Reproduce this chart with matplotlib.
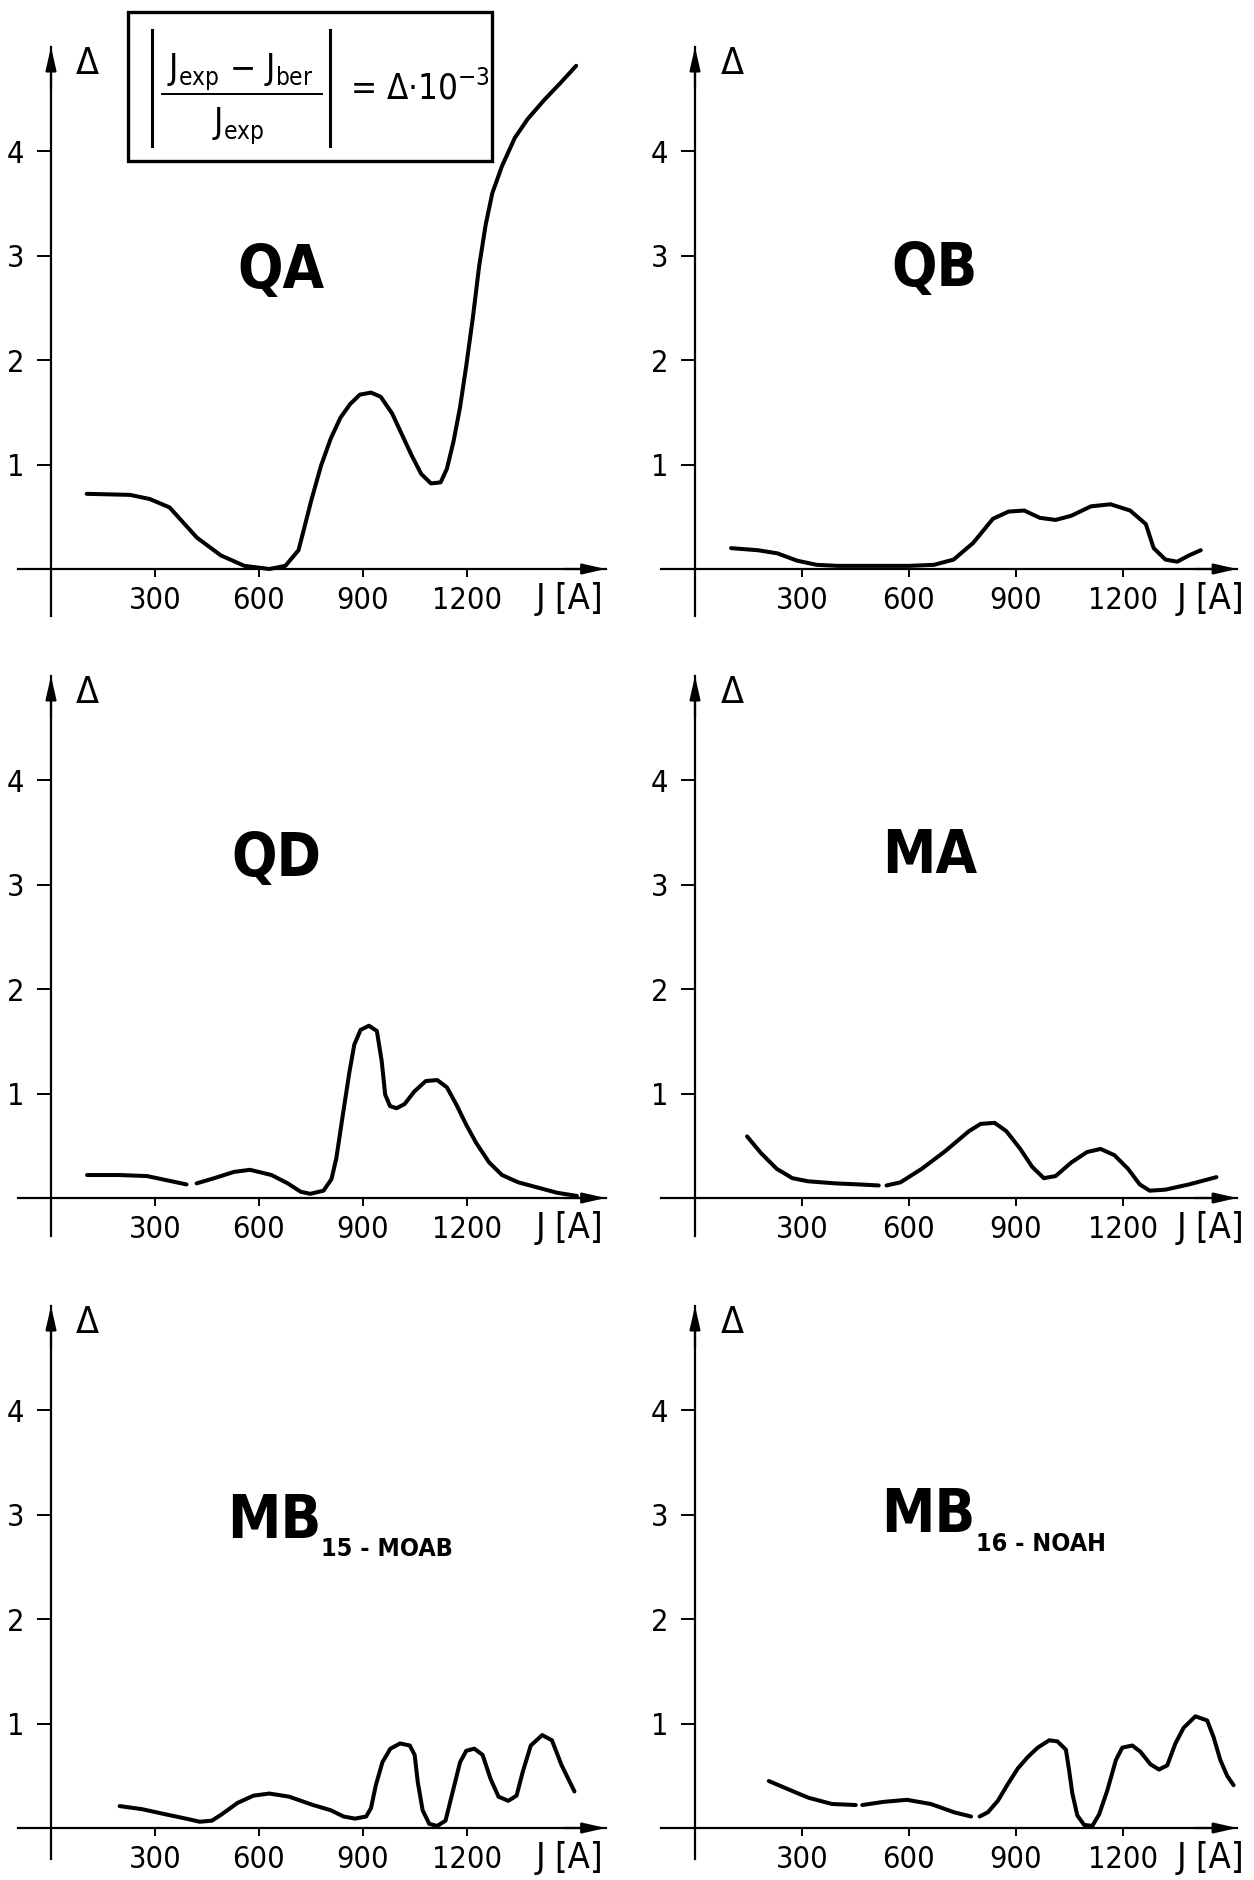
import matplotlib
matplotlib.use("Agg")
import matplotlib.pyplot as plt
import numpy as np
from matplotlib.patches import Rectangle

plt.rcParams["font.family"] = ["Liberation Sans Narrow", "DejaVu Sans"]
plt.rcParams["font.stretch"] = "condensed"
plt.rcParams["mathtext.default"] = "regular"

# ---- data (J in A, delta in 1e-3) ----
qa_j = [103, 228, 285, 342, 421, 490, 558, 630, 676, 714, 728, 751, 779, 807, 835, 863,
        891, 923, 951, 984, 1012, 1040, 1068, 1096, 1124, 1142, 1161, 1180, 1198, 1217,
        1235, 1254, 1273, 1301, 1338, 1375, 1422, 1468, 1515]
qa_d = [0.72, 0.71, 0.67, 0.59, 0.30, 0.13, 0.03, 0.0, 0.03, 0.18, 0.36, 0.66, 0.99, 1.25,
        1.45, 1.58, 1.67, 1.69, 1.65, 1.49, 1.29, 1.09, 0.91, 0.82, 0.83, 0.96, 1.22, 1.55,
        1.95, 2.41, 2.90, 3.30, 3.60, 3.86, 4.13, 4.31, 4.49, 4.65, 4.82]

qb_j = [101, 176, 231, 286, 341, 400, 500, 600, 670, 725, 780, 835, 879, 923, 967, 1011,
        1055, 1110, 1165, 1220, 1264, 1286, 1319, 1352, 1385, 1418]
qb_d = [0.20, 0.18, 0.15, 0.08, 0.04, 0.03, 0.03, 0.03, 0.04, 0.09, 0.25, 0.48, 0.55, 0.56,
        0.49, 0.47, 0.51, 0.60, 0.62, 0.56, 0.43, 0.20, 0.09, 0.07, 0.13, 0.18]

qd_j = [104, 197, 277, 334, 391, np.nan, 420, 471, 528, 574, 636, 683, 720, 748, 786, 809,
        823, 842, 861, 875, 893, 917, 940, 954, 964, 978, 997, 1020, 1048, 1081, 1114,
        1142, 1170, 1198, 1226, 1264, 1301, 1348, 1404, 1460, 1517]
qd_d = [0.22, 0.22, 0.21, 0.17, 0.13, np.nan, 0.14, 0.19, 0.25, 0.27, 0.22, 0.14, 0.06, 0.04,
        0.07, 0.18, 0.38, 0.80, 1.21, 1.47, 1.61, 1.65, 1.60, 1.31, 0.99, 0.88, 0.86, 0.90,
        1.02, 1.12, 1.13, 1.06, 0.89, 0.70, 0.53, 0.34, 0.22, 0.15, 0.10, 0.05, 0.02]

ma_j = [146, 185, 229, 273, 317, 394, 460, 515, np.nan, 537, 576, 636, 702, 768, 801, 840,
        873, 912, 945, 978, 1011, 1055, 1099, 1137, 1176, 1214, 1247, 1275, 1319, 1385, 1462]
ma_d = [0.59, 0.43, 0.28, 0.19, 0.16, 0.14, 0.13, 0.12, np.nan, 0.12, 0.15, 0.28, 0.45, 0.64,
        0.71, 0.72, 0.64, 0.47, 0.30, 0.19, 0.21, 0.34, 0.44, 0.47, 0.41, 0.28, 0.13, 0.07,
        0.08, 0.13, 0.20]

mb15_j = [198, 263, 332, 389, 429, 464, 492, 538, 584, 630, 687, 756, 807, 844, 877, 909,
          923, 937, 956, 979, 1007, 1035, 1049, 1058, 1072, 1091, 1114, 1138, 1156, 1180,
          1198, 1221, 1245, 1268, 1291, 1319, 1343, 1361, 1384, 1417, 1445, 1473, 1510]
mb15_d = [0.21, 0.18, 0.13, 0.09, 0.06, 0.07, 0.13, 0.24, 0.31, 0.33, 0.30, 0.22, 0.17, 0.11,
          0.09, 0.11, 0.19, 0.41, 0.63, 0.76, 0.81, 0.79, 0.70, 0.44, 0.17, 0.04, 0.02, 0.07,
          0.31, 0.63, 0.74, 0.76, 0.70, 0.47, 0.30, 0.26, 0.31, 0.54, 0.79, 0.89, 0.84, 0.60,
          0.35]

mb16_j = [207, 262, 318, 384, 451, np.nan, 469, 528, 594, 661, 727, 774, np.nan, 798, 821,
          849, 877, 905, 933, 961, 993, 1016, 1040, 1049, 1058, 1072, 1091, 1114, 1133, 1156,
          1180, 1198, 1226, 1249, 1277, 1301, 1324, 1347, 1370, 1403, 1436, 1454, 1473, 1492,
          1510]
mb16_d = [0.45, 0.37, 0.29, 0.23, 0.22, np.nan, 0.22, 0.25, 0.27, 0.23, 0.15, 0.11, np.nan,
          0.11, 0.15, 0.26, 0.42, 0.57, 0.68, 0.77, 0.84, 0.83, 0.75, 0.55, 0.33, 0.12, 0.03,
          0.02, 0.13, 0.36, 0.65, 0.77, 0.79, 0.73, 0.61, 0.56, 0.60, 0.81, 0.96, 1.07, 1.03,
          0.87, 0.65, 0.50, 0.41]

x_ticks = [300, 600, 900, 1200]
y_ticks = [1, 2, 3, 4]

# ---- layout (pixels of the 1254 x 1880 canvas) ----
W, H = 1254, 1880
SY = 104.4                       # px per delta unit
COLS = {"L": (51, 104 / 300, (-95, 1600)), "R": (695, 107 / 300, (-95, 1520))}
ROWS = [(569, -0.45), (1198, -0.36), (1828, -0.30)]
YTOP = 5.0

panels = [
    ("L", 0, qa_j, qa_d, "QA", None, (664, 2.85)),
    ("R", 0, qb_j, qb_d, "QB", None, (673, 2.87)),
    ("L", 1, qd_j, qd_d, "QD", None, (650, 3.24)),
    ("R", 1, ma_j, ma_d, "MA", None, (659, 3.27)),
    ("L", 2, mb15_j, mb15_d, "MB", "15 - MOAB", (643, 2.94)),
    ("R", 2, mb16_j, mb16_d, "MB", "16 - NOAH", (653, 2.99)),
]

fig = plt.figure(figsize=(W / 100, H / 100), dpi=100)
fig.patch.set_facecolor("white")

for col, row, xs, ys, name, sub, tpos in panels:
    ox, sx, xlim = COLS[col]
    oy, ybot = ROWS[row]
    left = ox + xlim[0] * sx
    right = ox + xlim[1] * sx
    top = oy - YTOP * SY
    bottom = oy - ybot * SY
    ax = fig.add_axes([left / W, 1 - bottom / H, (right - left) / W, (bottom - top) / H])
    ax.set_xlim(*xlim)
    ax.set_ylim(ybot, YTOP)
    ax.patch.set_alpha(0)
    for s in ("top", "right"):
        ax.spines[s].set_visible(False)
    ax.spines["left"].set_position(("data", 0))
    ax.spines["bottom"].set_position(("data", 0))
    ax.spines["left"].set_linewidth(1.6)
    ax.spines["bottom"].set_linewidth(1.6)

    ax.set_xticks(x_ticks)
    ax.set_yticks(y_ticks)
    ax.set_xticklabels([str(v) for v in x_ticks])
    ax.set_yticklabels([str(v) for v in y_ticks])
    ax.tick_params(axis="y", direction="out", length=10, width=1.4, pad=9, labelsize=22)
    ax.tick_params(axis="x", direction="out", length=6, width=1.4, pad=6, labelsize=22)

    # arrow heads
    ax.annotate("", xy=(xlim[1], 0), xytext=(xlim[1] - 120, 0),
                arrowprops=dict(arrowstyle="-|>,head_length=1.4,head_width=0.32",
                                color="black", lw=1.6, shrinkA=0, shrinkB=0),
                annotation_clip=False)
    ax.annotate("", xy=(0, YTOP), xytext=(0, YTOP - 0.4),
                arrowprops=dict(arrowstyle="-|>,head_length=1.4,head_width=0.32",
                                color="black", lw=1.6, shrinkA=0, shrinkB=0),
                annotation_clip=False)

    ax.plot(xs, ys, color="black", lw=2.9, solid_capstyle="round",
            solid_joinstyle="round", clip_on=False)

    ax.text(105, 4.84, "Δ", fontsize=27, ha="center", va="center")
    jx = 1495 if col == "L" else 1445
    ax.text(jx, -0.29, "J [A]", fontsize=26, ha="center", va="center", clip_on=False)

    ax.text(tpos[0], tpos[1], name, fontsize=43, fontweight="bold", ha="center", va="center")
    if sub:
        ax.text(tpos[0] + 135, tpos[1] - 0.27, sub, fontsize=18, fontweight="bold",
                ha="left", va="center")

# ---- formula box (top left) ----
ov = fig.add_axes([0, 0, 1, 1])
ov.set_xlim(0, W)
ov.set_ylim(H, 0)
ov.axis("off")
ov.add_patch(Rectangle((128, 12), 364, 149, fill=False, lw=2.4, ec="black"))
ov.plot([152, 152], [30, 146], color="black", lw=2.2)
ov.plot([330, 330], [30, 146], color="black", lw=2.2)
ov.plot([162, 322], [94, 94], color="black", lw=1.4)
ov.text(240, 72, r"J$_{exp}$ − J$_{ber}$", fontsize=25, ha="center", va="center")
ov.text(238, 126, r"J$_{exp}$", fontsize=25, ha="center", va="center")
ov.text(350, 88, r"= Δ·10$^{-3}$", fontsize=25, ha="left", va="center")

fig.savefig("out.png", dpi=100, facecolor="white")
